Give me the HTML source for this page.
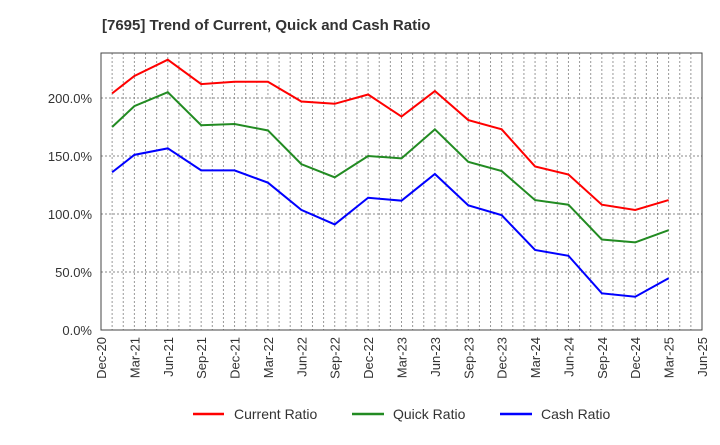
<!DOCTYPE html>
<html><head><meta charset="utf-8"><style>
body{margin:0;background:#fff;font-family:"Liberation Sans",Arial,sans-serif;}
svg text{font-family:"Liberation Sans",Arial,sans-serif;}
</style></head><body>
<svg id="chart" width="720" height="440" xmlns="http://www.w3.org/2000/svg">
<text x="102" y="30" font-size="15" font-weight="bold" fill="#333">[7695]  Trend of Current, Quick and Cash Ratio</text>
<g id="grid"></g>
<g id="yaxis"></g>
<g id="xaxis"></g>
<g id="series"></g>
<rect x="101" y="53" width="601" height="277" fill="none" stroke="#444" stroke-width="1"/>
<g>
<g><line x1="193" y1="414" x2="224" y2="414" stroke="#ff0000" stroke-width="2.5"/><text x="234" y="419" font-size="14" fill="#333">Current Ratio</text></g>
<g><line x1="352" y1="414" x2="384" y2="414" stroke="#228b22" stroke-width="2.5"/><text x="393" y="419" font-size="14" fill="#333">Quick Ratio</text></g>
<g><line x1="500" y1="414" x2="532" y2="414" stroke="#0000ff" stroke-width="2.5"/><text x="541" y="419" font-size="14" fill="#333">Cash Ratio</text></g>
</g>
</svg>
<script>
const months = [1,3,6,9,12,15,18,21,24,27,30,33,36,39,42,45,48,51];
const currentRatio = [204,219,233,212,214,214,197,195,203,184,206,181,173,141,134,108,103.5,112];
const quickRatio = [175,193,205,176.5,177.6,172,143,131.6,150,148,173,145,137,112,108,78,75.5,86];
const cashRatio = [136,151,156.6,137.6,137.6,127,103.5,91,114,111.5,134.5,107.5,99,69,64,31.6,28.7,44.6];
const yTicks = [0,50,100,150,200];
const xTickLabels = ["Dec-20","Mar-21","Jun-21","Sep-21","Dec-21","Mar-22","Jun-22","Sep-22","Dec-22","Mar-23","Jun-23","Sep-23","Dec-23","Mar-24","Jun-24","Sep-24","Dec-24","Mar-25","Jun-25"];

const NS="http://www.w3.org/2000/svg";
const L=101,R=702,T=53,B=330,MMAX=54;
const xs=m=>L+(R-L)*m/MMAX;
const ys=v=>B-v*1.16;
function mk(tag,attrs,parent){const e=document.createElementNS(NS,tag);for(const k in attrs)e.setAttribute(k,attrs[k]);parent.appendChild(e);return e;}
const grid=document.getElementById('grid'),ya=document.getElementById('yaxis'),xa=document.getElementById('xaxis'),se=document.getElementById('series');
for(let m=1;m<MMAX;m++){
  const l=mk('line',{x1:xs(m),x2:xs(m),y1:T,y2:B,stroke:'#999','stroke-width':1,'stroke-dasharray':'2,2'},grid);
  
  
}
yTicks.forEach(v=>{
  if(v>0){const g=mk('line',{x1:L,x2:R,y1:ys(v),y2:ys(v),stroke:'#888','stroke-width':1,'stroke-dasharray':'2,2'},grid);
  
  }
  const t=mk('text',{x:92,y:ys(v)+5,'text-anchor':'end','font-size':13,fill:'#333'},ya);
  t.textContent=v.toFixed(1)+'%';
  
  
});
xTickLabels.forEach((s,i)=>{
  const x=xs(i*3);
  const t=mk('text',{x:0,y:0,transform:`translate(${x+5},337) rotate(-90)`,'text-anchor':'end','font-size':13,fill:'#333'},xa);
  t.textContent=s;
  
  
});
[[currentRatio,'#ff0000','current-ratio-line'],[quickRatio,'#228b22','quick-ratio-line'],[cashRatio,'#0000ff','cash-ratio-line']].forEach(([d,c,n])=>{
  const p=mk('polyline',{points:d.map((v,i)=>xs(months[i])+','+ys(v)).join(' '),fill:'none',stroke:c,'stroke-width':2},se);
  
  
});
</script>
</body></html>
